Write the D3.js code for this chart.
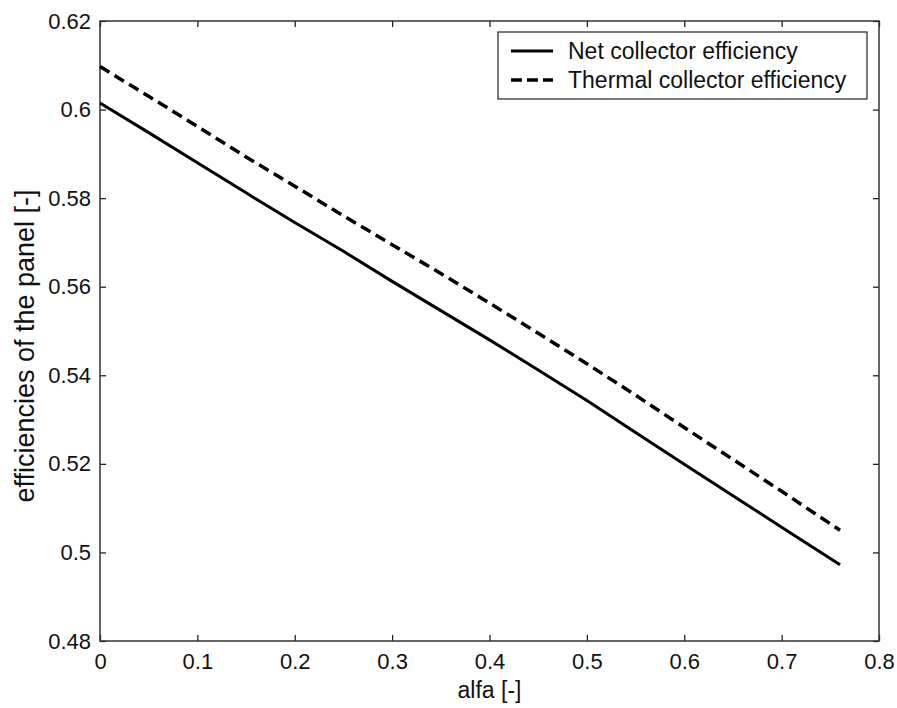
<!DOCTYPE html>
<html>
<head>
<meta charset="utf-8">
<script src="https://cdn.jsdelivr.net/npm/d3@7"></script>
<style>
  body { margin: 0; background: #fff; }
  svg text { font-family: "Liberation Sans", Arial, sans-serif; fill: #111; }
</style>
</head>
<body>
<div id="chartDiv"></div>
<script>
'use strict';

// values
const alfa = [0, 0.05, 0.1, 0.15, 0.2, 0.25, 0.3, 0.35, 0.4, 0.45, 0.5, 0.55, 0.6, 0.65, 0.7, 0.76];
const netEfficiency = [0.6015, 0.5948, 0.5880, 0.5812, 0.5745, 0.5680, 0.5612, 0.5546, 0.5480,
                       0.5412, 0.5343, 0.5271, 0.5199, 0.5128, 0.5057, 0.4972];
const thermalEfficiency = [0.6097, 0.6030, 0.5962, 0.5893, 0.5827, 0.5760, 0.5695, 0.5630, 0.5563,
                           0.5495, 0.5426, 0.5355, 0.5282, 0.5210, 0.5138, 0.5050];
const xTicks = [0, 0.1, 0.2, 0.3, 0.4, 0.5, 0.6, 0.7, 0.8];
const yTicks = [0.48, 0.5, 0.52, 0.54, 0.56, 0.58, 0.6, 0.62];
const seriesNames = ['Net collector efficiency', 'Thermal collector efficiency'];

const W = 897, H = 708;
const margin = { top: 21, right: 18, bottom: 67, left: 100 };
const width = W - margin.left - margin.right;
const height = H - margin.top - margin.bottom;

const xScale = d3.scaleLinear().domain([0, 0.8]).range([0, width]);
const yScale = d3.scaleLinear().domain([0.48, 0.62]).range([height, 0]);

const svg = d3.select('#chartDiv').append('svg')
    .attr('width', W)
    .attr('height', H);

const g = svg.append('g')
    .attr('transform', 'translate(' + margin.left + ',' + margin.top + ')');

const fmt = d => d3.format('')(+d.toFixed(2));

// ticks point inward on all four sides, like matlab
const tickLen = 6;
g.append('g')
    .attr('transform', 'translate(0,' + height + ')')
    .call(d3.axisBottom(xScale).tickValues(xTicks).tickFormat(fmt).tickSizeInner(-tickLen).tickSizeOuter(0).tickPadding(12));
g.append('g')
    .call(d3.axisTop(xScale).tickValues(xTicks).tickFormat('').tickSizeInner(-tickLen).tickSizeOuter(0));
g.append('g')
    .call(d3.axisLeft(yScale).tickValues(yTicks).tickFormat(fmt).tickSizeInner(-tickLen).tickSizeOuter(0).tickPadding(9));
g.append('g')
    .attr('transform', 'translate(' + width + ',0)')
    .call(d3.axisRight(yScale).tickValues(yTicks).tickFormat('').tickSizeInner(-tickLen).tickSizeOuter(0));

g.selectAll('.domain').remove();
g.selectAll('.tick line').attr('stroke', '#222').attr('stroke-width', 1.3);
g.selectAll('.tick text').attr('font-size', 22).attr('fill', '#111');

// box
g.append('rect')
    .attr('width', width)
    .attr('height', height)
    .attr('fill', 'none')
    .attr('stroke', '#333')
    .attr('stroke-width', 1.5);

const line = d3.line()
    .x(d => xScale(d[0]))
    .y(d => yScale(d[1]));

g.append('path')
    .datum(alfa.map((a, i) => [a, netEfficiency[i]]))
    .attr('d', line)
    .attr('fill', 'none')
    .attr('stroke', '#000')
    .attr('stroke-width', 3);

g.append('path')
    .datum(alfa.map((a, i) => [a, thermalEfficiency[i]]))
    .attr('d', line)
    .attr('fill', 'none')
    .attr('stroke', '#000')
    .attr('stroke-width', 3.5)
    .attr('stroke-dasharray', '11,6');

// axis labels
svg.append('text')
    .attr('x', margin.left + width / 2)
    .attr('y', 698)
    .attr('text-anchor', 'middle')
    .attr('font-size', 23)
    .text('alfa [-]');

svg.append('text')
    .attr('transform', 'translate(34,346) rotate(-90)')
    .attr('text-anchor', 'middle')
    .attr('font-size', 27)
    .text('efficiencies of the panel [-]');

// legend
const legend = svg.append('g').attr('transform', 'translate(498,32)');
legend.append('rect')
    .attr('width', 369)
    .attr('height', 67)
    .attr('fill', '#fff')
    .attr('stroke', '#333')
    .attr('stroke-width', 1.3);

seriesNames.forEach((name, i) => {
    const y = 19 + i * 29;
    legend.append('line')
        .attr('x1', 13).attr('x2', 55)
        .attr('y1', y).attr('y2', y)
        .attr('stroke', '#000')
        .attr('stroke-width', i === 0 ? 3 : 3.5)
        .attr('stroke-dasharray', i === 0 ? null : '11,5');
    legend.append('text')
        .attr('x', 70)
        .attr('y', y + 8)
        .attr('font-size', 23)
        .text(name);
});
</script>
</body>
</html>
